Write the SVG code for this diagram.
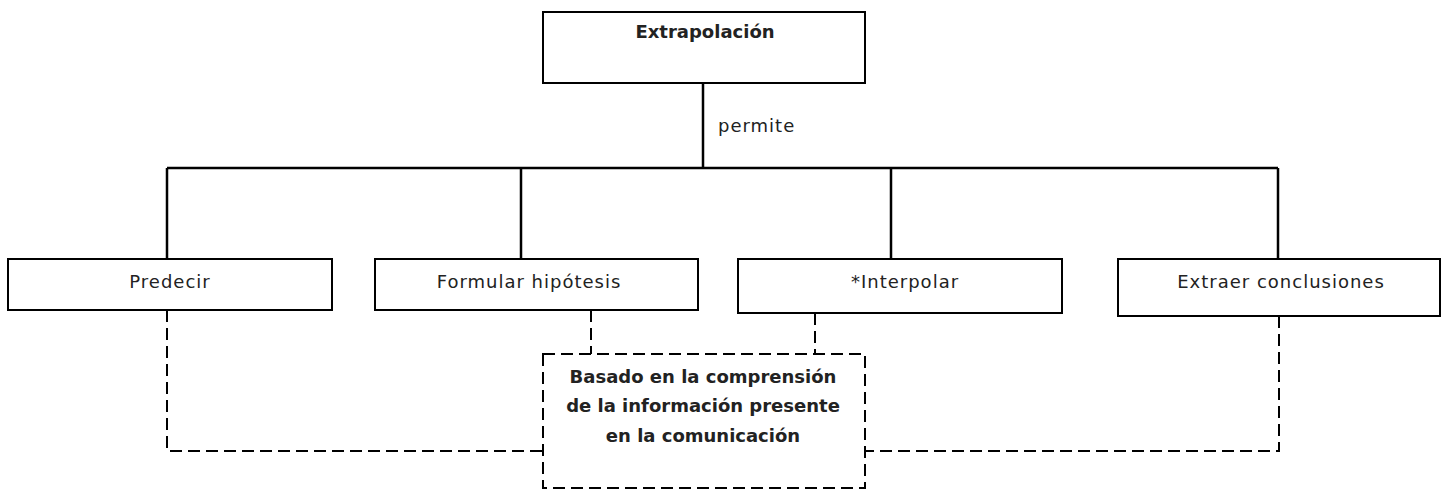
<svg xmlns="http://www.w3.org/2000/svg" width="1447" height="496" viewBox="0 0 1447 496">
<style>
.box{fill:#fff;stroke:#000;stroke-width:2}
.dbox{fill:#fff;stroke:#000;stroke-width:2;stroke-dasharray:12 6}
.ln{fill:none;stroke:#000;stroke-width:2.5}
.dl{fill:none;stroke:#000;stroke-width:2;stroke-dasharray:12 6}
text{font-family:"Comic Sans MS","DejaVu Sans",sans-serif;font-size:18px;fill:#222;text-anchor:middle;letter-spacing:1px}
.b{font-weight:bold;font-size:18px;letter-spacing:0}
</style>
<rect width="1447" height="496" fill="#fff"/>
<g id="connectors">
<path class="ln" d="M703 83V168M167 168H1278M167 168V259M521 168V259M891 168V259M1278 168V259"/>
<text x="718" y="132" style="text-anchor:start">permite</text>
<path class="dl" d="M167 310V451H543"/>
<path class="dl" d="M591 310V354"/>
<path class="dl" d="M815 313V354"/>
<path class="dl" d="M1279 316V451H865"/>
</g>
<g id="n-extrapolacion">
<rect class="box" x="543" y="12" width="322" height="71"/>
<text class="b" x="705" y="38">Extrapolación</text>
</g>
<g id="n-predecir">
<rect class="box" x="8" y="259" width="324" height="51"/>
<text x="170" y="288">Predecir</text>
</g>
<g id="n-formular">
<rect class="box" x="375" y="259" width="323" height="51"/>
<text x="529" y="288">Formular hipótesis</text>
</g>
<g id="n-interpolar">
<rect class="box" x="738" y="259" width="324" height="54"/>
<text x="905" y="288">*Interpolar</text>
</g>
<g id="n-extraer">
<rect class="box" x="1118" y="259" width="322" height="57"/>
<text x="1281" y="288">Extraer conclusiones</text>
</g>
<g id="n-basado">
<rect class="dbox" x="543" y="354" width="322" height="134"/>
<text class="b" x="703" y="383">Basado en la comprensión</text>
<text class="b" x="703" y="412">de la información presente</text>
<text class="b" x="703" y="442">en la comunicación</text>
</g>
</svg>
